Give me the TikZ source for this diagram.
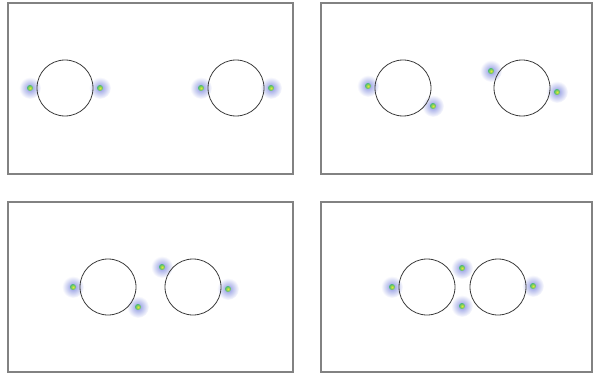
\documentclass[tikz,border=0pt]{standalone}
\usepackage{xcolor}
\usepackage{tikz}
\usetikzlibrary{positioning}

\definecolor{framegray}{RGB}{130,130,130}
\definecolor{ringgray}{RGB}{60,60,60}
\definecolor{glowblue}{RGB}{140,150,225}
\definecolor{dotgreen}{RGB}{70,185,120}
\definecolor{dotyellow}{RGB}{225,235,50}

\begin{document}
\begin{tikzpicture}[x=1pt,y=-1pt]
\tikzstyle{panel} = [draw=framegray, line width=1.2pt]
\tikzstyle{ring} = [circle, minimum size=56pt, inner sep=0pt, draw=ringgray, line width=0.8pt]
\tikzstyle{glow} = [circle, minimum size=22pt, inner sep=0pt, shading=radial, inner color=glowblue, outer color=white]
\tikzstyle{dot} = [circle, minimum size=6pt, inner sep=0pt, shading=radial, inner color=dotyellow, outer color=dotgreen]

\useasboundingbox (0,0) rectangle (597,377);

% frames
\draw [panel] (8,3) rectangle (293,174);
\draw [panel] (321,3) rectangle (592,174);
\draw [panel] (8,202) rectangle (293,372);
\draw [panel] (321,202) rectangle (592,372);

% glows first, then rings on top
\foreach \name/\px/\py in {a1/30/88, a2/100/88, a3/201/88, a4/271/88,
                           b1/368/86, b2/433/106, b3/491/71, b4/557/92,
                           c1/73/287, c2/138/307, c3/162/267, c4/228/289,
                           d1/392/287, d2/462/268, d3/462/306, d4/533/286}
  \node (g\name) [glow] at (\px,\py) {};

% top left
\node (ringA1) [ring] at (65,88) {};
\node (ringA2) [ring] at (236,88) {};
% top right
\node (ringB1) [ring] at (403,88) {};
\node (ringB2) [ring] at (522,88) {};
% bottom left
\node (ringC1) [ring] at (108,287) {};
\node (ringC2) [ring] at (193,287) {};
% bottom right
\node (ringD1) [ring] at (427,287) {};
\node (ringD2) [ring] at (498,287) {};

\foreach \name in {a1,a2,a3,a4,b1,b2,b3,b4,c1,c2,c3,c4,d1,d2,d3,d4}
  \node (d\name) [dot] at (g\name.center) {};
\end{tikzpicture}
\end{document}
